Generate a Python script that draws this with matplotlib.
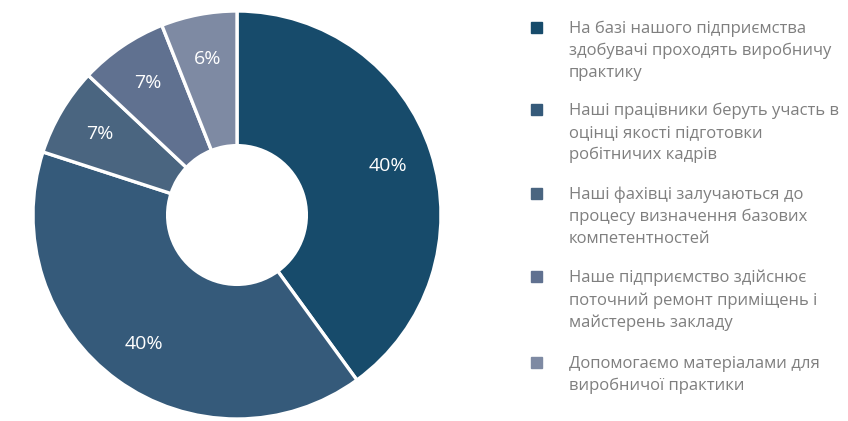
import matplotlib.pyplot as plt
from matplotlib.patches import Rectangle

labels = [
    'На базі нашого підприємства\nздобувачі проходять виробничу\nпрактику',
    'Наші працівники беруть участь в\nоцінці якості підготовки\nробітничих кадрів',
    'Наші фахівці залучаються до\nпроцесу визначення базових\nкомпетентностей',
    'Наше підприємство здійснює\nпоточний ремонт приміщень і\nмайстерень закладу',
    'Допомогаємо матеріалами для\nвиробничої практики',
]
values = [40, 40, 7, 7, 6]
colors = ['#174b6b', '#355a7a', '#4a6580', '#607190', '#7e8aa3']

fig = plt.figure(figsize=(8.48, 4.21), dpi=100)
ax = fig.add_axes([33 / 848, 2 / 421, 408 / 848, 408 / 421])

wedges, texts, autotexts = ax.pie(
    values, colors=colors, startangle=90, counterclock=False, radius=1,
    autopct='%d%%', pctdistance=0.78,
    wedgeprops=dict(width=0.66, edgecolor='white', linewidth=2.4),
    textprops=dict(color='white', fontsize=14, family='Open Sans'))
ax.set_xlim(-1, 1)
ax.set_ylim(-1, 1)
ax.set_aspect('equal')
ax.axis('off')

# legend drawn by hand
first_line_y = [27, 109, 193, 276, 362]
for lab, col, y in zip(labels, colors, first_line_y):
    fig.add_artist(Rectangle((531 / 848, 1 - (y + 6) / 421), 11 / 848, 11 / 421,
                             transform=fig.transFigure, color=col))
    fig.text(569 / 848, 1 - (y - 6) / 421, lab, va='top', ha='left',
             fontsize=12, color='#7f7f7f', family='Open Sans', linespacing=1.45)

fig.savefig('out.png', dpi=100)
